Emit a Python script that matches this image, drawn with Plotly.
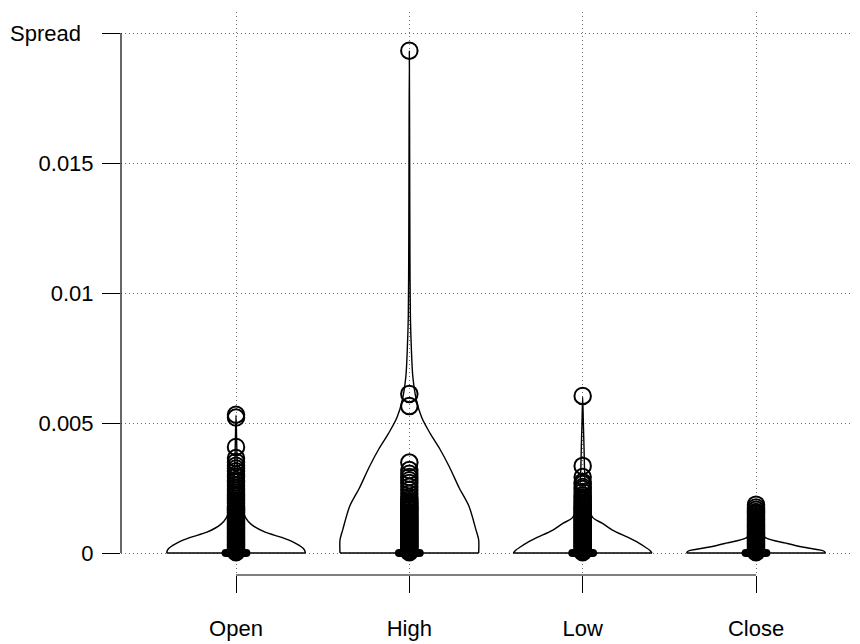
import plotly.graph_objects as go

CATEGORIES = ["Open", "High", "Low", "Close"]

# Violin outlines: spread levels and kernel density relative to each series' peak
OPEN_LEVELS = [0, 0.0001, 0.0002, 0.0004, 0.0006, 0.0008, 0.0011, 0.00135, 0.002, 0.003, 0.004, 0.0053]
OPEN_DENSITY = [1.0, 0.99, 0.96, 0.84, 0.66, 0.42, 0.22, 0.14, 0.06, 0.025, 0.012, 0.0]

HIGH_LEVELS = [0, 0.0005, 0.0009, 0.0018, 0.0025, 0.0033, 0.004, 0.0046, 0.0052, 0.0059,
               0.0068, 0.0078, 0.0091, 0.012, 0.015, 0.0193]
HIGH_DENSITY = [1.0, 1.0, 0.96, 0.86, 0.72, 0.58, 0.44, 0.30, 0.18, 0.10,
                0.05, 0.03, 0.015, 0.008, 0.005, 0.0]

LOW_LEVELS = [0, 0.0001, 0.00023, 0.0004, 0.00058, 0.00088, 0.00115, 0.00135, 0.002, 0.003, 0.004, 0.005, 0.006]
LOW_DENSITY = [1.0, 0.97, 0.90, 0.80, 0.67, 0.43, 0.28, 0.15, 0.06, 0.03, 0.02, 0.01, 0.0]

CLOSE_LEVELS = [0, 0.00005, 0.0001, 0.00023, 0.00038, 0.00058, 0.0008, 0.0012, 0.0016, 0.00186]
CLOSE_DENSITY = [1.0, 0.99, 0.95, 0.67, 0.43, 0.14, 0.07, 0.03, 0.01, 0.0]

# Boxplot outliers (every non-zero spread lies above Q3 + 1.5 IQR)
OPEN_OUTLIERS = [
    0.00003, 0.00008, 0.00012, 0.00017, 0.00021, 0.00026, 0.00030, 0.00035, 0.00039, 0.00044,
    0.00048, 0.00053, 0.00057, 0.00062, 0.00066, 0.00071, 0.00075, 0.00080, 0.00084, 0.00089,
    0.00093, 0.00098, 0.00102, 0.00107, 0.00111, 0.00116, 0.00120, 0.00125, 0.00129, 0.00134,
    0.00138, 0.00143, 0.00148, 0.00154, 0.00159, 0.00165, 0.00170, 0.00176, 0.00183, 0.00190,
    0.00196, 0.00203, 0.00210, 0.00218, 0.00225, 0.00233, 0.00241, 0.00250, 0.00260, 0.00272,
    0.00281, 0.00293, 0.00302, 0.00314, 0.00325, 0.00336, 0.00350, 0.00365, 0.00408, 0.00521,
    0.00532,
]
HIGH_OUTLIERS = [
    0.00003, 0.00008, 0.00012, 0.00017, 0.00021, 0.00026, 0.00030, 0.00035, 0.00039, 0.00044,
    0.00048, 0.00053, 0.00057, 0.00062, 0.00066, 0.00071, 0.00075, 0.00080, 0.00084, 0.00089,
    0.00093, 0.00098, 0.00102, 0.00107, 0.00111, 0.00116, 0.00120, 0.00125, 0.00129, 0.00134,
    0.00138, 0.00143, 0.00148, 0.00153, 0.00158, 0.00164, 0.00169, 0.00175, 0.00181, 0.00187,
    0.00192, 0.00199, 0.00206, 0.00215, 0.00228, 0.00242, 0.00255, 0.00269, 0.00280, 0.00292,
    0.00305, 0.00319, 0.00348, 0.00565, 0.00612, 0.01932,
]
LOW_OUTLIERS = [
    0.00003, 0.00008, 0.00012, 0.00017, 0.00021, 0.00026, 0.00030, 0.00035, 0.00039, 0.00044,
    0.00048, 0.00053, 0.00057, 0.00062, 0.00066, 0.00071, 0.00075, 0.00080, 0.00084, 0.00089,
    0.00093, 0.00098, 0.00102, 0.00107, 0.00111, 0.00116, 0.00120, 0.00125, 0.00129, 0.00134,
    0.00138, 0.00143, 0.00148, 0.00153, 0.00158, 0.00164, 0.00169, 0.00175, 0.00181, 0.00187,
    0.00193, 0.00200, 0.00207, 0.00214, 0.00222, 0.00235, 0.00246, 0.00254, 0.00265, 0.00273,
    0.00292, 0.00335, 0.00604,
]
CLOSE_OUTLIERS = [
    0.00003, 0.00007, 0.00011, 0.00016, 0.00020, 0.00024, 0.00029, 0.00033, 0.00037, 0.00042,
    0.00046, 0.00050, 0.00055, 0.00059, 0.00063, 0.00068, 0.00072, 0.00076, 0.00081, 0.00085,
    0.00089, 0.00094, 0.00098, 0.00102, 0.00107, 0.00111, 0.00116, 0.00121, 0.00126, 0.00131,
    0.00136, 0.00141, 0.00147, 0.00152, 0.00158, 0.00166, 0.00175, 0.00186,
]

MEDIANS = [0.0, 0.0, 0.0, 0.0]

Y_TICKS = [0, 0.005, 0.01, 0.015, 0.02]
Y_TICK_TEXT = ["0", "0.005", "0.01", "0.015", ""]
Y_TITLE = "Spread"

LEVELS = [OPEN_LEVELS, HIGH_LEVELS, LOW_LEVELS, CLOSE_LEVELS]
DENSITIES = [OPEN_DENSITY, HIGH_DENSITY, LOW_DENSITY, CLOSE_DENSITY]
OUTLIERS = [OPEN_OUTLIERS, HIGH_OUTLIERS, LOW_OUTLIERS, CLOSE_OUTLIERS]

HALF_WIDTH = 0.4          # violin half-width at peak density, in category units
MEDIAN_HALF = 0.06        # half-length of the median bar
FONT = "Liberation Sans, Arial, Helvetica, sans-serif"
GRID = dict(showgrid=True, gridcolor="#6e6e6e", gridwidth=1, griddash="1px,3px")

fig = go.Figure()

for i, name in enumerate(CATEGORIES):
    pos = i + 1
    levels, dens = LEVELS[i], DENSITIES[i]

    # left edge bottom-up, then right edge top-down
    xs = [pos - HALF_WIDTH * d for d in dens] + [pos + HALF_WIDTH * d for d in reversed(dens[:-1])]
    ys = list(levels) + list(reversed(levels[:-1]))
    fig.add_trace(go.Scatter(
        x=xs, y=ys, mode="lines", name=name,
        line=dict(color="black", width=1.4, shape="spline", smoothing=0.8),
        hoverinfo="skip",
    ))
    # flat base of the violin at the minimum spread
    fig.add_trace(go.Scatter(
        x=[pos - HALF_WIDTH * dens[0], pos + HALF_WIDTH * dens[0]],
        y=[levels[0], levels[0]], mode="lines",
        line=dict(color="black", width=1.4), hoverinfo="skip",
    ))
    # median bar of the boxplot
    fig.add_trace(go.Scatter(
        x=[pos - MEDIAN_HALF, pos + MEDIAN_HALF], y=[MEDIANS[i], MEDIANS[i]],
        mode="lines+markers", line=dict(color="black", width=8),
        marker=dict(symbol="circle", size=8, color="black"),
        hoverinfo="skip",
    ))
    # outliers
    fig.add_trace(go.Scatter(
        x=[pos] * len(OUTLIERS[i]), y=OUTLIERS[i], mode="markers",
        marker=dict(symbol="circle-open", size=16.5, color="black", line=dict(width=2, color="black")),
        cliponaxis=False, name=name,
    ))

positions = list(range(1, len(CATEGORIES) + 1))

fig.update_layout(
    width=860, height=644,
    margin=dict(l=121, r=10, t=12, b=69, autoexpand=False),
    plot_bgcolor="white", paper_bgcolor="white",
    showlegend=False,
    font=dict(family=FONT, size=22, color="black"),
    shapes=[
        # y axis line from the lowest to the highest tick
        dict(type="line", xref="paper", x0=0, x1=0, yref="y", y0=Y_TICKS[0], y1=Y_TICKS[-1],
             line=dict(color="black", width=1.2)),
        # x axis line from the first to the last category
        dict(type="line", xref="x", x0=positions[0], x1=positions[-1], yref="paper", y0=0, y1=0,
             line=dict(color="black", width=1.2)),
    ],
    annotations=[
        dict(text=Y_TITLE, xref="paper", x=0, xanchor="right", xshift=-38,
             yref="y", y=Y_TICKS[-1], yanchor="middle", showarrow=False,
             font=dict(family=FONT, size=22, color="black")),
    ],
)

fig.update_xaxes(
    range=[0.3365, 4.5423],
    tickvals=positions, ticktext=CATEGORIES,
    ticks="outside", ticklen=17, tickwidth=1.2, tickcolor="black",
    ticklabelstandoff=17, automargin=False,
    zeroline=False, showline=False, **GRID,
)
fig.update_yaxes(
    range=[-0.000846, 0.020808],
    tickvals=Y_TICKS, ticktext=Y_TICK_TEXT,
    ticks="outside", ticklen=18, tickwidth=1.2, tickcolor="black",
    ticklabelstandoff=4, automargin=False,
    zeroline=False, showline=False, **GRID,
)

fig.write_html("out.html")
